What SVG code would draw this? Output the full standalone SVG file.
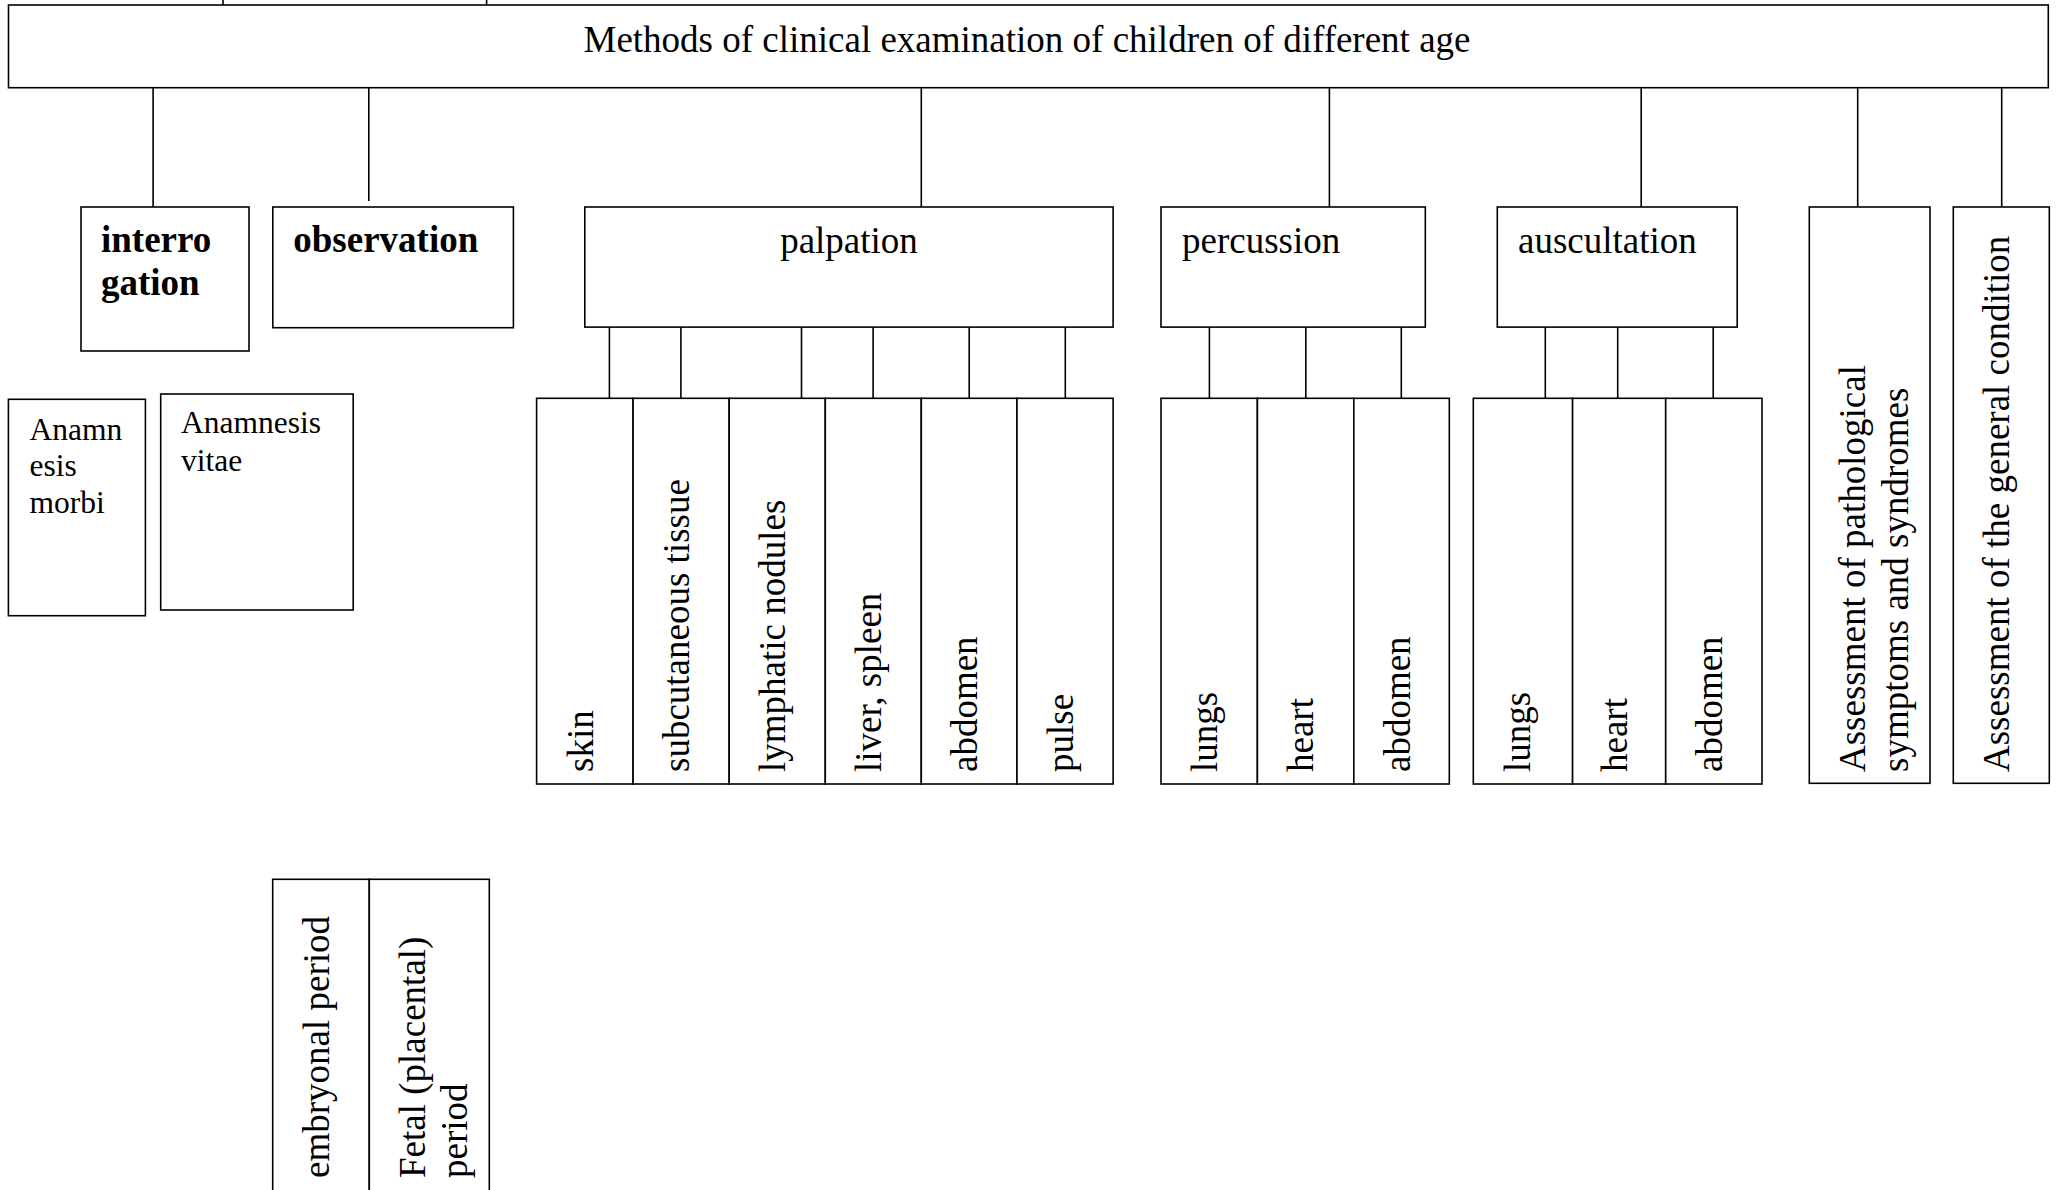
<svg xmlns="http://www.w3.org/2000/svg" width="2057" height="1190" viewBox="0 0 2057 1190">
<style>
.box{fill:#fff;stroke:#000;stroke-width:1.6}
.conn{stroke:#000;stroke-width:1.6;fill:none}
.t{font-family:"Liberation Serif","Times New Roman",serif;font-size:37px;fill:#000}
.b{font-weight:bold}
.s{font-size:31.5px}
</style>
<rect x="0" y="0" width="2057" height="1190" fill="#fff"/>
<g id="connectors">
<path class="conn" d="M223,0V5M486.6,0V5"/>
<path class="conn" d="M153.1,87.7V207M368.8,87.7V201M921.3,87.7V207M1329.4,87.7V207M1641.2,87.7V207M1857.7,87.7V207M2001.7,87.7V207"/>
<path class="conn" d="M609.4,327.1V398.3M680.9,327.1V398.3M801.5,327.1V398.3M873.1,327.1V398.3M969.2,327.1V398.3M1065.3,327.1V398.3"/>
<path class="conn" d="M1209.4,327.1V398.3M1305.8,327.1V398.3M1401.3,327.1V398.3"/>
<path class="conn" d="M1545.3,327.1V398.3M1617.7,327.1V398.3M1713.2,327.1V398.3"/>
</g>
<g id="root">
<rect class="box" x="8.5" y="5" width="2039.8" height="82.7"/>
<text class="t" x="1027" y="51.7" text-anchor="middle">Methods of clinical examination of children of different age</text>
</g>
<g id="interrogation">
<rect class="box" x="81" y="207" width="168" height="144"/>
<text class="t b" x="101" y="252.3">interro</text>
<text class="t b" x="101" y="295">gation</text>
</g>
<g id="observation">
<rect class="box" x="272.8" y="207" width="240.6" height="120.7"/>
<text class="t b" x="293.3" y="252.3">observation</text>
</g>
<g id="palpation">
<rect class="box" x="584.8" y="207" width="528.3" height="120.1"/>
<text class="t" x="849" y="253" text-anchor="middle">palpation</text>
</g>
<g id="percussion">
<rect class="box" x="1161" y="207" width="264.3" height="120.1"/>
<text class="t" x="1182" y="253">percussion</text>
</g>
<g id="auscultation">
<rect class="box" x="1497.3" y="207" width="239.9" height="120.1"/>
<text class="t" x="1518" y="253">auscultation</text>
</g>
<g id="pathological">
<rect class="box" x="1809.3" y="207" width="120.7" height="576.3"/>
<text class="t" transform="translate(1865.3,772) rotate(-90)">Assessment of pathological</text>
<text class="t" transform="translate(1907.8,772) rotate(-90)">symptoms and syndromes</text>
</g>
<g id="general-condition">
<rect class="box" x="1953.3" y="207" width="96" height="576.3"/>
<text class="t" transform="translate(2009,772) rotate(-90)">Assessment of the general condition</text>
</g>
<g id="anamnesis-morbi">
<rect class="box" x="8.4" y="399.3" width="137" height="216.4"/>
<text class="t s" x="29.5" y="439.5">Anamn</text>
<text class="t s" x="29.5" y="476">esis</text>
<text class="t s" x="29.5" y="512.5">morbi</text>
</g>
<g id="anamnesis-vitae">
<rect class="box" x="160.7" y="394" width="192.5" height="216"/>
<text class="t s" x="181" y="433.3">Anamnesis</text>
<text class="t s" x="181" y="470.7">vitae</text>
</g>
<g id="palp-skin">
<rect class="box" x="536.6" y="398.3" width="96.5" height="385.7"/>
<text class="t" transform="translate(592.6,772) rotate(-90)">skin</text>
</g>
<g id="palp-subcutaneous">
<rect class="box" x="633.1" y="398.3" width="96.1" height="385.7"/>
<text class="t" transform="translate(689.1,772) rotate(-90)">subcutaneous tissue</text>
</g>
<g id="palp-lymphatic">
<rect class="box" x="729.2" y="398.3" width="96.1" height="385.7"/>
<text class="t" transform="translate(785.2,772) rotate(-90)">lymphatic nodules</text>
</g>
<g id="palp-liver">
<rect class="box" x="825.3" y="398.3" width="96" height="385.7"/>
<text class="t" transform="translate(881.3,772) rotate(-90)">liver, spleen</text>
</g>
<g id="palp-abdomen">
<rect class="box" x="921.3" y="398.3" width="95.7" height="385.7"/>
<text class="t" transform="translate(977.3,772) rotate(-90)">abdomen</text>
</g>
<g id="palp-pulse">
<rect class="box" x="1017" y="398.3" width="96.1" height="385.7"/>
<text class="t" transform="translate(1073,772) rotate(-90)">pulse</text>
</g>
<g id="perc-lungs">
<rect class="box" x="1161" y="398.3" width="96.4" height="385.7"/>
<text class="t" transform="translate(1217,772) rotate(-90)">lungs</text>
</g>
<g id="perc-heart">
<rect class="box" x="1257.4" y="398.3" width="96.4" height="385.7"/>
<text class="t" transform="translate(1313.4,772) rotate(-90)">heart</text>
</g>
<g id="perc-abdomen">
<rect class="box" x="1353.8" y="398.3" width="95.5" height="385.7"/>
<text class="t" transform="translate(1409.8,772) rotate(-90)">abdomen</text>
</g>
<g id="ausc-lungs">
<rect class="box" x="1473.3" y="398.3" width="99.3" height="385.7"/>
<text class="t" transform="translate(1530,772) rotate(-90)">lungs</text>
</g>
<g id="ausc-heart">
<rect class="box" x="1572.6" y="398.3" width="93.1" height="385.7"/>
<text class="t" transform="translate(1627,772) rotate(-90)">heart</text>
</g>
<g id="ausc-abdomen">
<rect class="box" x="1665.7" y="398.3" width="96.3" height="385.7"/>
<text class="t" transform="translate(1721.7,772) rotate(-90)">abdomen</text>
</g>
<g id="embryonal-period">
<rect class="box" x="272.7" y="879.3" width="96.6" height="330"/>
<text class="t" transform="translate(328.5,1178) rotate(-90)">embryonal period</text>
</g>
<g id="fetal-period">
<rect class="box" x="369.3" y="879.3" width="120" height="330"/>
<text class="t" transform="translate(424.5,1178) rotate(-90)">Fetal (placental)</text>
<text class="t" transform="translate(467,1178) rotate(-90)">period</text>
</g>
</svg>
